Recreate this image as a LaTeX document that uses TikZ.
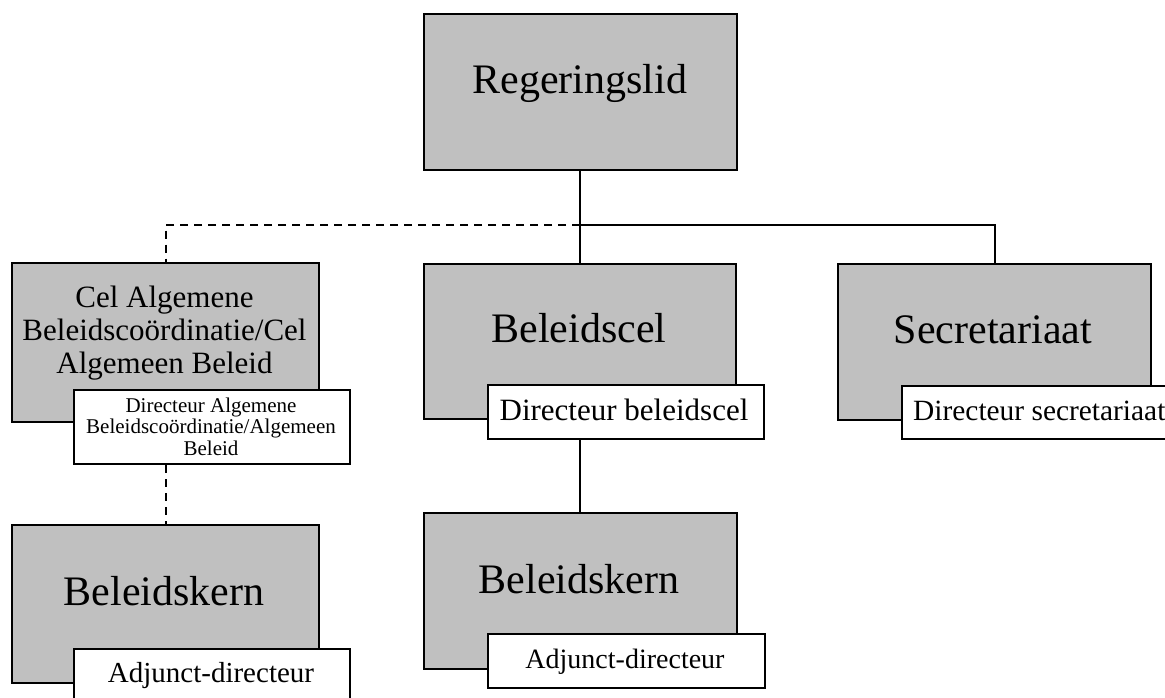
\documentclass[tikz,border=0pt]{standalone}
\usepackage{fontspec}
\setmainfont{Liberation Serif}
\definecolor{boxgray}{HTML}{C0C0C0}
\begin{document}
\begin{tikzpicture}[x=1pt,y=-1pt,
  graybox/.style={draw=black, fill=boxgray, line width=2pt, inner sep=0pt, anchor=north west},
  whitebox/.style={draw=black, fill=white, line width=2pt, inner sep=0pt, anchor=north west},
  conn/.style={draw=black, line width=2pt},
  dconn/.style={draw=black, line width=2pt, dash pattern=on 8pt off 6pt},
  bigtxt/.style={anchor=base, inner sep=0pt, font=\fontsize{42}{48}\selectfont},
  midtxt/.style={anchor=base, inner sep=0pt, font=\fontsize{31}{33}\selectfont},
  dirtxt/.style={anchor=base, inner sep=0pt, font=\fontsize{30}{33}\selectfont},
  smalltxt/.style={anchor=base, inner sep=0pt, font=\fontsize{21}{22}\selectfont}]
\useasboundingbox (0,0) rectangle (1165,697);
\fill[white] (0,0) rectangle (1165,697);

% gray boxes
\node[graybox, minimum width=313pt, minimum height=156pt] (reg) at (423,13) {};
\node[graybox, minimum width=307pt, minimum height=159pt] (cel) at (11,262) {};
\node[graybox, minimum width=312pt, minimum height=155pt] (bc) at (423,263) {};
\node[graybox, minimum width=313pt, minimum height=156pt] (sec) at (837,263) {};
\node[graybox, minimum width=307pt, minimum height=158pt] (kern1) at (11,524) {};
\node[graybox, minimum width=313pt, minimum height=156pt] (kern2) at (423,512) {};

% connectors
\coordinate (j) at (580,225);
\draw[conn] (reg.south -| j) -- (j);
\draw[conn] (j) -| (sec.north);
\draw[conn] (j) -- (j |- bc.north);
\draw[dconn] (j) -| (cel.north);

% white boxes
\node[whitebox, minimum width=276pt, minimum height=74pt] (celdir) at (73,389) {};
\node[whitebox, minimum width=276pt, minimum height=54pt] (dir2) at (487,384) {};
\node[whitebox, minimum width=275pt, minimum height=53pt] (dir3) at (901,385) {};
\node[whitebox, minimum width=276pt, minimum height=60pt] (adj1) at (73,648) {};
\node[whitebox, minimum width=277pt, minimum height=54pt] (adj2) at (487,633) {};

\draw[conn] (j |- dir2.south) -- (j |- kern2.north);
\draw[dconn] (cel.north |- celdir.south) -- (kern1.north);

% texts
\node[bigtxt] (regt) at (580,93) {Regeringslid};
\node[midtxt] (celt1) at (164.5,307) {Cel Algemene};
\node[midtxt] (celt2) at (164.5,340) {Beleidscoördinatie/Cel};
\node[midtxt] (celt3) at (164.5,373) {Algemeen Beleid};
\node[bigtxt] (bct) at (579,342) {Beleidscel};
\node[bigtxt] (sect) at (993,343) {Secretariaat};
\node[smalltxt] (celdt1) at (211,412) {Directeur Algemene};
\node[smalltxt] (celdt2) at (211,433.5) {Beleidscoördinatie/Algemeen};
\node[smalltxt] (celdt3) at (211,455) {Beleid};
\node[midtxt] (dir2t) at (624,420) {Directeur beleidscel};
\node[dirtxt, font=\fontsize{29.4}{33}\selectfont, anchor=base west] (dir3t) at (913,420) {Directeur secretariaat};
\node[bigtxt] (kern1t) at (164,605) {Beleidskern};
\node[bigtxt] (kern2t) at (579,593) {Beleidskern};
\node[dirtxt, font=\fontsize{29}{33}\selectfont] (adj1t) at (211,682) {Adjunct-directeur};
\node[dirtxt, font=\fontsize{28}{33}\selectfont] (adj2t) at (625,668) {Adjunct-directeur};
\end{tikzpicture}
\end{document}
